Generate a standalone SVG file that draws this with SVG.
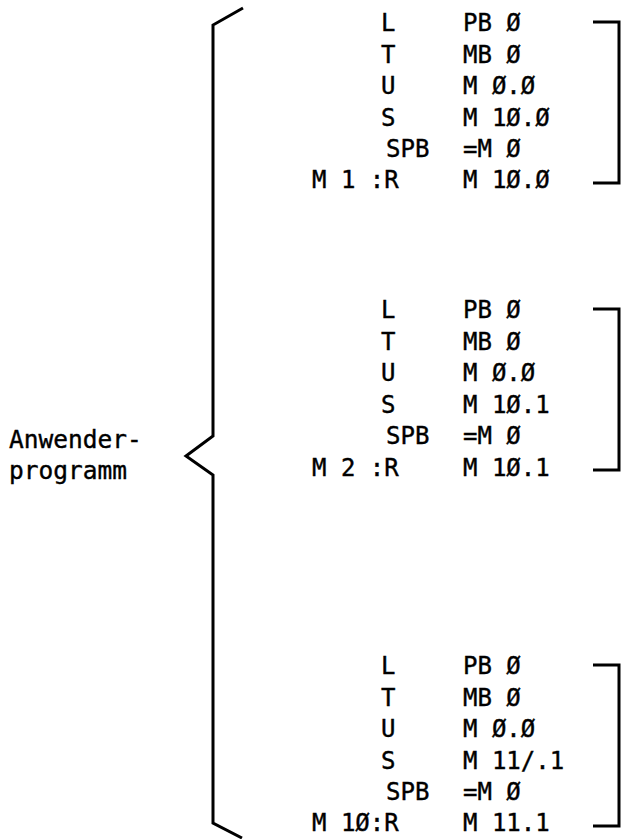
<svg xmlns="http://www.w3.org/2000/svg" width="622" height="839" viewBox="0 0 622 839">
<style>
text{font-family:"DejaVu Sans Mono","Liberation Mono",monospace;font-size:24px;fill:#000;stroke:#000;stroke-width:0.4}
.lbl{font-size:24.5px}
.ln{fill:none;stroke:#000;stroke-width:3;stroke-linejoin:miter}
</style>
<rect width="622" height="839" fill="#fff"/>
<g id="label">
<text class="lbl" x="9" y="448">Anwender-</text>
<text class="lbl" x="9" y="479">programm</text>
</g>
<g id="connectors">
<path id="brace" class="ln" d="M243 8 L213 25 L213 436 L186 456 L213 475 L213 823 L242 838"/>
</g>
<g id="block1">
<text x="381" y="31">L</text><text x="463" y="31">PB Ø</text>
<text x="381" y="62.5">T</text><text x="463" y="62.5">MB Ø</text>
<text x="381" y="94">U</text><text x="463" y="94">M Ø.Ø</text>
<text x="381" y="125.5">S</text><text x="463" y="125.5">M 1Ø.Ø</text>
<text x="386" y="157">SPB</text><text x="463" y="157">=M Ø</text>
<text x="312" y="188" xml:space="preserve">M 1 :R</text><text x="463" y="188">M 1Ø.Ø</text>
<path class="ln" d="M593 22 H619 V183 H593"/>
</g>
<g id="block2">
<text x="381" y="318">L</text><text x="463" y="318">PB Ø</text>
<text x="381" y="349.5">T</text><text x="463" y="349.5">MB Ø</text>
<text x="381" y="381">U</text><text x="463" y="381">M Ø.Ø</text>
<text x="381" y="412.5">S</text><text x="463" y="412.5">M 1Ø.1</text>
<text x="386" y="444">SPB</text><text x="463" y="444">=M Ø</text>
<text x="312" y="475.5" xml:space="preserve">M 2 :R</text><text x="463" y="475.5">M 1Ø.1</text>
<path class="ln" d="M593 309 H619 V470 H593"/>
</g>
<g id="block3">
<text x="381" y="674">L</text><text x="463" y="674">PB Ø</text>
<text x="381" y="705.5">T</text><text x="463" y="705.5">MB Ø</text>
<text x="381" y="737">U</text><text x="463" y="737">M Ø.Ø</text>
<text x="381" y="768.5">S</text><text x="463" y="768.5">M 11/.1</text>
<text x="386" y="800">SPB</text><text x="463" y="800">=M Ø</text>
<text x="312" y="831">M 1Ø:R</text><text x="463" y="831">M 11.1</text>
<path class="ln" d="M593 665 H619 V826 H593"/>
</g>
</svg>
